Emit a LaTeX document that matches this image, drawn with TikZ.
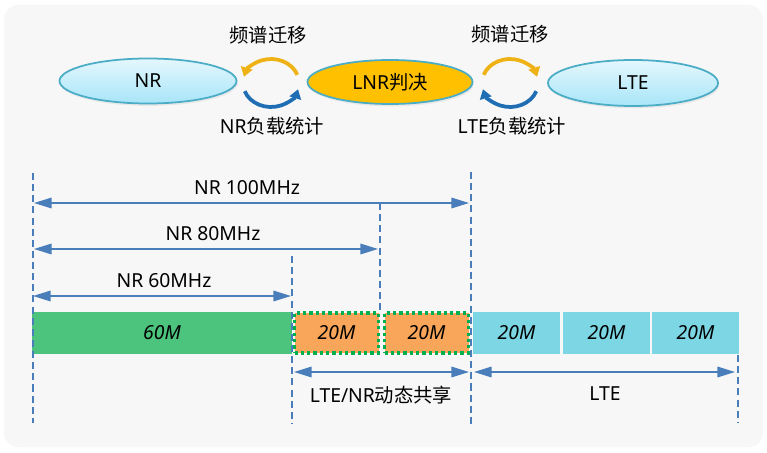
\documentclass[tikz,border=0pt]{standalone}
\usepackage{fontspec}
\setmainfont{Noto Sans}
\newfontfamily\cjk{Noto Sans CJK SC}
\usetikzlibrary{arrows.meta,shapes.geometric,shadows}
\definecolor{dimblue}{RGB}{74,126,187}
\definecolor{nrgreen}{RGB}{76,196,125}
\definecolor{dssorange}{RGB}{250,166,90}
\definecolor{ltecyan}{RGB}{124,214,227}
\definecolor{dotgreen}{RGB}{0,176,80}
\definecolor{ringedge}{RGB}{75,172,198}
\definecolor{ringtop}{RGB}{228,247,253}
\definecolor{ringbottom}{RGB}{168,229,248}
\definecolor{lnrgold}{RGB}{255,192,0}
\definecolor{cyclegold}{RGB}{238,178,20}
\definecolor{cycleblue}{RGB}{31,110,180}
\definecolor{panel}{RGB}{247,247,247}
\tikzset{
  ratnode/.style={ellipse, draw=ringedge, line width=1.5pt, inner sep=0pt,
    top color=ringtop, bottom color=ringbottom,
    drop shadow={opacity=0.12, shadow xshift=1pt, shadow yshift=-2pt}},
  guide/.style={dimblue, line width=1.1pt, dash pattern=on 6pt off 3.5pt},
  dimarrow/.style={dimblue, line width=1.3pt, {Triangle[length=15pt,width=9pt]}-{Triangle[length=15pt,width=9pt]}},
  band/.style={inner sep=0pt, minimum height=1.26cm, font=\itshape},
  nrband/.style={band, fill=nrgreen},
  dssband/.style={band, fill=dssorange, draw=dotgreen, line width=2.8pt, dash pattern=on 2.8pt off 2.6pt},
  lteband/.style={band, fill=ltecyan, minimum width=2.6cm},
  cyclearc/.style={line width=3.2pt, -{Triangle[length=8pt,width=10pt]}}
}
\begin{document}
\begin{tikzpicture}[x=0.03cm, y=-0.03cm]
    \fontsize{16.5}{19}\selectfont
    \useasboundingbox (0,0) rectangle (767,452);
    \fill[white] (0,0) rectangle (767,452);
    \fill[panel, rounded corners=12pt] (4,5) rectangle (763,447);
    % top row: systems and decision
    \node[ratnode, minimum width=5.31cm, minimum height=1.35cm] (nr) at (148,81) {NR};
    \node[ratnode, minimum width=4.95cm, minimum height=1.32cm, top color=lnrgold, bottom color=lnrgold] (lnr) at (390,82) {LNR{\cjk 判决}};
    \node[ratnode, minimum width=5.1cm, minimum height=1.38cm] (lte) at (633,83) {LTE};
    % cycles between them
    \draw[cyclearc, cyclegold] (271,83) ++(-20:28 and 24) arc (-20:-165:28 and 24);
    \draw[cyclearc, cycleblue] (271,83) ++(160:28 and 24) arc (160:15:28 and 24);
    \draw[cyclearc, cyclegold] (510,83) ++(-160:28 and 24) arc (-160:-15:28 and 24);
    \draw[cyclearc, cycleblue] (510,83) ++(20:28 and 24) arc (20:165:28 and 24);
    \node (mig1) at (268,35) {\cjk 频谱迁移};
    \node (mig2) at (510,34) {\cjk 频谱迁移};
    \node (stat1) at (272,126) {NR{\cjk 负载统计}};
    \node (stat2) at (512,126) {LTE{\cjk 负载统计}};
    % spectrum bands
    \node[nrband, minimum width=7.8cm] (b60) at (162,333) {60M};
    \node[dssband, minimum width=2.52cm, minimum height=1.2cm] (d1) at (336.5,333) {20M};
    \node[dssband, minimum width=2.52cm, minimum height=1.2cm] (d2) at (426.5,333) {20M};
    \foreach \i/\x in {1/516.5, 2/606.5, 3/695.5}
        \node[lteband] (l\i) at (\x,333) {20M};
    % guides
    \coordinate (g0t) at (33,173);  \coordinate (g0b) at (33,423);
    \coordinate (g1t) at (292,256); \coordinate (g1b) at (292,423);
    \coordinate (g2t) at (380,203); \coordinate (g2b) at (380,311);
    \coordinate (g3t) at (471,172); \coordinate (g3b) at (471,425);
    \coordinate (g4t) at (738,355); \coordinate (g4b) at (738,423);
    \foreach \g in {0,...,4} \draw[guide] (g\g t) -- (g\g b);
    % bandwidth arrows
    \coordinate (a100l) at (34,203);  \coordinate (a100r) at (469,203);
    \coordinate (a80l) at (34,249);   \coordinate (a80r) at (378,249);
    \coordinate (a60l) at (33,296);   \coordinate (a60r) at (291,296);
    \coordinate (dssl) at (294,372);  \coordinate (dssr) at (469,372);
    \coordinate (ltel) at (474,372);  \coordinate (lter) at (735,372);
    \draw[dimarrow] (a100l) -- (a100r);
    \draw[dimarrow] (a80l) -- (a80r);
    \draw[dimarrow] (a60l) -- (a60r);
    \draw[dimarrow] (dssl) -- (dssr);
    \draw[dimarrow] (ltel) -- (lter);
    \node (t100) at (247,188) {NR 100MHz};
    \node (t80) at (213,234) {NR 80MHz};
    \node (t60) at (164,281) {NR 60MHz};
    \node (tdss) at (381,395) {LTE/NR{\cjk 动态共享}};
    \node (tlte) at (605,394) {LTE};
\end{tikzpicture}
\end{document}
